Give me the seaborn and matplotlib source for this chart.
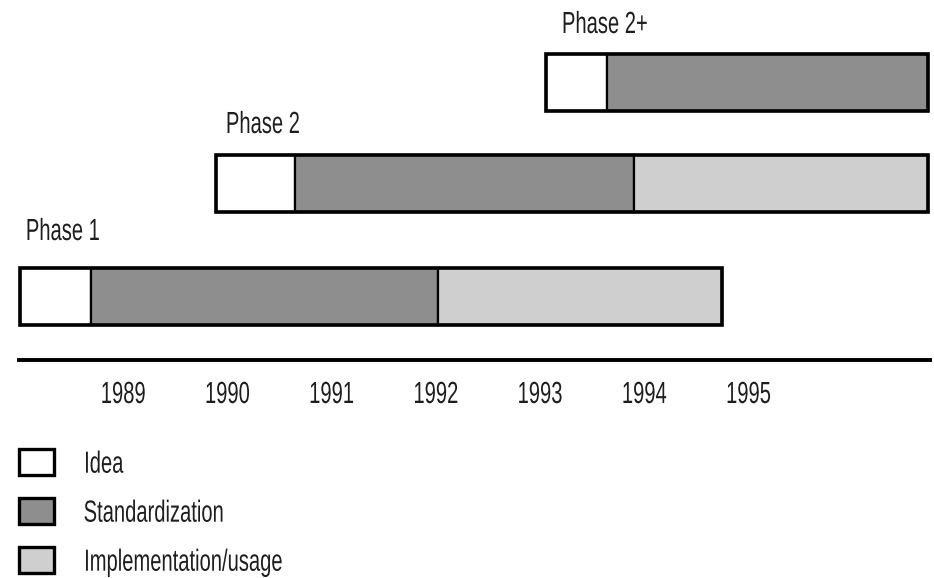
import matplotlib
matplotlib.use('Agg')
import matplotlib.pyplot as plt
from matplotlib.patches import Patch
from matplotlib.patheffects import AbstractPathEffect
from matplotlib.transforms import Affine2D
import seaborn as sns

# ── Data ───────────────────────────────────────────────────────────────────────
phases      = ['Phase 1', 'Phase 2', 'Phase 2+']
idea_start  = [1988.01, 1989.89, 1993.06]
std_start   = [1988.69, 1990.65, 1993.65]
impl_start  = [1992.02, 1993.90, 1996.73]
phase_end   = [1994.75, 1996.73, 1996.73]
year_ticks  = [1989, 1990, 1991, 1992, 1993, 1994, 1995]
stages      = ['Idea', 'Standardization', 'Implementation/usage']

# ── Style ──────────────────────────────────────────────────────────────────────
sns.set_theme(style='white')
plt.rcParams['font.family'] = ['Liberation Sans', 'DejaVu Sans']
COLORS = ['#ffffff', '#8e8e8e', '#cfcfcf']
TEXT = '#1e1e1e'
FS = 22


class Condense(AbstractPathEffect):
    """Squeeze glyphs horizontally (the original uses a narrow typeface)."""
    def __init__(self, sx=0.66, anchor='left'):
        super().__init__()
        self.sx, self.anchor = sx, anchor

    def draw_path(self, renderer, gc, tpath, affine, rgbFace=None):
        ext = tpath.get_extents()
        x0 = ext.x0 if self.anchor == 'left' else (ext.x0 + ext.x1) / 2
        t = Affine2D().translate(-x0, 0).scale(self.sx, 1).translate(x0, 0) + affine
        renderer.draw_path(gc, tpath, t, rgbFace)


# layout (px from top): bar centres, label baselines, label x-offsets (years)
row_y    = [296.5, 183, 82.5]
row_h    = 57
label_y  = [240, 133, 33]
label_dx = [0.05, 0.09, 0.145]

fig = plt.figure(figsize=(9.34, 5.78), dpi=100)
ax = fig.add_axes([0, 0, 1, 1])
ax.set_xlim(1987.82, 1987.82 + 934 / 104.2)
ax.set_ylim(578, 0)
ax.axis('off')

for i, name in enumerate(phases):
    segs = [(idea_start[i], std_start[i]), (std_start[i], impl_start[i]),
            (impl_start[i], phase_end[i])]
    for (a, b), c in zip(segs, COLORS):
        if b - a <= 0:
            continue
        ax.barh(row_y[i], b - a, left=a, height=row_h, color=c,
                edgecolor='black', linewidth=1.6, zorder=2)
    ax.barh(row_y[i], phase_end[i] - idea_start[i], left=idea_start[i],
            height=row_h, fill=False, edgecolor='black', linewidth=2.6, zorder=3)
    ax.text(idea_start[i] + label_dx[i], label_y[i], name, fontsize=FS, color=TEXT,
            ha='left', va='baseline', path_effects=[Condense(anchor='left')])

# time axis
ax.hlines(360, 1987.98, 1996.76, color='black', linewidth=2.8)
for yr in year_ticks:
    ax.text(yr, 403, str(yr), fontsize=FS, color=TEXT, ha='center', va='baseline',
            path_effects=[Condense(anchor='center')])

handles = [Patch(facecolor=c, edgecolor='black', linewidth=2.4) for c in COLORS]
leg = ax.legend(handles, stages, loc='upper left',
                bbox_to_anchor=(19 / 934, 1 - 449 / 578),
                bbox_transform=fig.transFigure, frameon=False, fontsize=FS,
                handlelength=1.15, handleheight=0.95, handletextpad=0.95,
                labelspacing=0.6, borderpad=0, borderaxespad=0, labelcolor=TEXT)
for t in leg.get_texts():
    t.set_path_effects([Condense(anchor='left')])

plt.savefig('out.png', dpi=100)
plt.close()
